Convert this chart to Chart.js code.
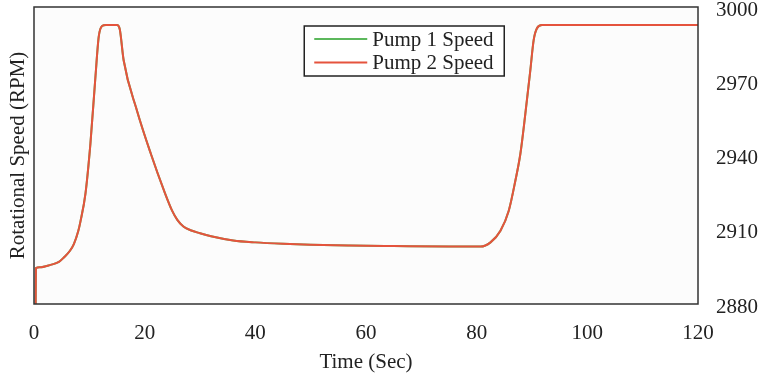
<!DOCTYPE html>
<html>
<head>
<meta charset="utf-8">
<script src="https://cdn.jsdelivr.net/npm/chart.js@4"></script>
<style>
html,body{margin:0;padding:0;background:#fff;}
#wrap{width:760px;height:381px;}
</style>
</head>
<body>
<div id="wrap"><canvas id="c" width="760" height="381"></canvas></div>
<script>
// Data
const timeSec = [0.3, 0.35, 1, 3, 4.5, 5.4, 6.5, 7.2, 8, 8.4, 9.3, 10.2, 11.1, 11.7, 12.3, 13, 15, 15.5, 16.2, 18.6, 21.1, 23.5, 25, 25.9, 27, 28.3, 30, 32, 36, 40, 45, 50, 57, 65, 75, 80.7, 82.5, 84.3, 85.8, 87, 87.9, 88.8, 89.7, 90.3, 90.9, 91.8, 120];
const pump1Speed = [2880, 2894.5, 2894.8, 2895.8, 2897, 2898.8, 2901.5, 2904.2, 2909.5, 2913.4, 2924.6, 2944.9, 2971.7, 2988, 2992.3, 2992.7, 2992.7, 2991, 2978.5, 2958.2, 2940.8, 2925.8, 2917.5, 2914, 2911.3, 2909.8, 2908.6, 2907.4, 2905.7, 2904.9, 2904.3, 2903.9, 2903.6, 2903.4, 2903.2, 2903.2, 2904.9, 2909.6, 2917.7, 2929.9, 2940.7, 2956.9, 2974.5, 2986.6, 2991.4, 2992.7, 2992.7];
const pump2Speed = [2880, 2894.5, 2894.8, 2895.8, 2897, 2898.8, 2901.5, 2904.2, 2909.5, 2913.4, 2924.6, 2944.9, 2971.7, 2988, 2992.3, 2992.7, 2992.7, 2991, 2978.5, 2958.2, 2940.8, 2925.8, 2917.5, 2914, 2911.3, 2909.8, 2908.6, 2907.4, 2905.7, 2904.9, 2904.3, 2903.9, 2903.6, 2903.4, 2903.2, 2903.2, 2904.9, 2909.6, 2917.7, 2929.9, 2940.7, 2956.9, 2974.5, 2986.6, 2991.4, 2992.7, 2992.7];
const seriesLabels = ['Pump 1 Speed', 'Pump 2 Speed'];
const xTicks = [0, 20, 40, 60, 80, 100, 120];
const yTicks = [2880, 2910, 2940, 2970, 3000];

const FONT = 'Liberation Serif, Times New Roman, serif';
const FS = 21;
const TXT = '#222';
const colors = ['#5cb85c', '#e5533d'];

const pts = (ys) => timeSec.map((t, i) => ({x: t, y: ys[i]}));

const framePlugin = {
  id: 'frame',
  beforeDraw(chart) {
    const {ctx, chartArea: a} = chart;
    ctx.save();
    ctx.fillStyle = '#fcfcfc';
    ctx.fillRect(a.left, a.top, a.right - a.left, a.bottom - a.top);
    ctx.restore();
  },
  afterDraw(chart) {
    const {ctx, chartArea: a} = chart;
    ctx.save();
    ctx.strokeStyle = '#333';
    ctx.lineWidth = 1.5;
    ctx.strokeRect(a.left, a.top, a.right - a.left, a.bottom - a.top);
    // legend box
    const w = a.right - a.left;
    const bx = a.left + w * 0.407, by = a.top + 19, bw = 200, bh = 50;
    ctx.fillStyle = '#ffffff';
    ctx.fillRect(bx, by, bw, bh);
    ctx.strokeStyle = '#222';
    ctx.lineWidth = 1.5;
    ctx.strokeRect(bx, by, bw, bh);
    ctx.font = FS + 'px ' + FONT;
    ctx.textBaseline = 'middle';
    chart.data.datasets.forEach((ds, i) => {
      const yy = by + 13 + i * 23.5;
      ctx.strokeStyle = ds.borderColor;
      ctx.lineWidth = 2;
      ctx.beginPath();
      ctx.moveTo(bx + 10, yy);
      ctx.lineTo(bx + 63, yy);
      ctx.stroke();
      ctx.fillStyle = TXT;
      ctx.fillText(ds.label, bx + 68, yy + 1);
    });
    ctx.restore();
  }
};

new Chart(document.getElementById('c'), {
  type: 'line',
  data: {
    datasets: [
      {label: seriesLabels[0], data: pts(pump1Speed), borderColor: colors[0], borderWidth: 2, pointRadius: 0, cubicInterpolationMode: 'monotone', yAxisID: 'y', order: 2},
      {label: seriesLabels[1], data: pts(pump2Speed), borderColor: colors[1], borderWidth: 2, pointRadius: 0, cubicInterpolationMode: 'monotone', yAxisID: 'y', order: 1}
    ]
  },
  options: {
    responsive: false,
    animation: false,
    layout: {padding: {top: 7, left: 0, right: 0, bottom: 0}},
    plugins: {legend: {display: false}, tooltip: {enabled: false}},
    scales: {
      x: {
        type: 'linear', min: 0, max: 120,
        afterBuildTicks: (s) => { s.ticks = xTicks.map(v => ({value: v})); },
        afterFit: (s) => { s.height = 77; s.paddingLeft = 0; s.paddingRight = 0; },
        grid: {display: false, drawTicks: false},
        border: {display: false},
        ticks: {font: {family: FONT, size: FS}, color: TXT, padding: 17, maxRotation: 0, callback: (v) => String(v)},
        title: {display: true, text: 'Time (Sec)', font: {family: FONT, size: FS}, color: TXT, padding: {top: 6, bottom: 6}}
      },
      y: {
        type: 'linear', position: 'right', min: 2880, max: 3000,
        afterBuildTicks: (s) => { s.ticks = yTicks.map(v => ({value: v})); },
        afterFit: (s) => { s.width = 62; s.paddingTop = 0; s.paddingBottom = 0; },
        grid: {display: false, drawTicks: false},
        border: {display: false},
        ticks: {font: {family: FONT, size: FS}, color: TXT, padding: 18, labelOffset: 3, callback: (v) => String(v)}
      },
      yTitle: {
        type: 'linear', position: 'left', min: 2880, max: 3000,
        afterFit: (s) => { s.width = 34; s.paddingTop = 0; s.paddingBottom = 0; },
        grid: {display: false, drawTicks: false},
        border: {display: false},
        ticks: {display: false},
        title: {display: true, text: 'Rotational Speed (RPM)', font: {family: FONT, size: FS}, color: TXT, padding: {top: 6, bottom: 6}}
      }
    }
  },
  plugins: [framePlugin]
});
</script>
</body>
</html>
